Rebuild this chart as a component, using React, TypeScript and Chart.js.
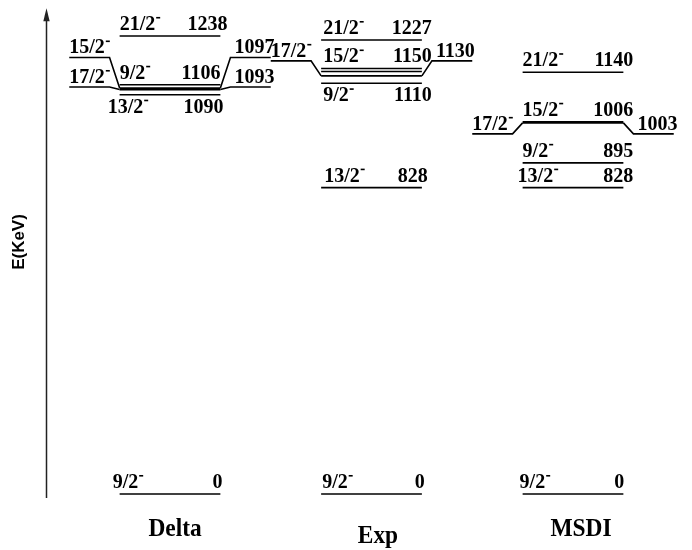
import React, { useEffect, useRef } from 'react';
import { Chart, registerables } from 'chart.js';

Chart.register(...registerables);

// ---- data ----
const categories = ['Delta', 'Exp', 'MSDI'];
const deltaSpins = ['9/2', '13/2', '17/2', '15/2', '9/2', '21/2'];
const deltaEnergies = [0, 1090, 1093, 1097, 1106, 1238];
const expSpins = ['9/2', '13/2', '9/2', '17/2', '15/2', '21/2'];
const expEnergies = [0, 828, 1110, 1130, 1150, 1227];
const msdiSpins = ['9/2', '13/2', '9/2', '17/2', '15/2', '21/2'];
const msdiEnergies = [0, 828, 895, 1003, 1006, 1140];
const yAxisTitle = 'E(KeV)';

// ---- layout (not data) ----
const X_MIN = -0.8437;
const X_MAX = 2.5906;
const Y_MIN = -151.4;
const Y_MAX = 1335.1;
const HALF = 0.25;
const SIDE_IN = 0.3;
const SIDE_OUT = 0.5;
const AXIS_X = -0.613;
const AXIS_TOP = 1313;
const AXIS_BOTTOM = -11;

type Place = 'ground' | 'above' | 'below' | 'side';
interface Lay {
  place: Place;
  shift?: number; // side line shift in px (up positive)
  nudge?: number; // main line nudge in px (down positive)
  eDx?: number;
  sDx?: number;
  double?: boolean;
}
const layout: Record<string, Lay> = {
  '0:0': { place: 'ground', sDx: -7, eDx: 2 },
  '0:1090': { place: 'below', nudge: 4, sDx: -12, eDx: 3 },
  '0:1093': { place: 'side', shift: 2.6 },
  '0:1097': { place: 'side', shift: 30.6 },
  '0:1106': { place: 'above', eDx: 0 },
  '0:1238': { place: 'above', eDx: 7 },
  '1:0': { place: 'ground', sDx: 1, eDx: 3 },
  '1:828': { place: 'above', sDx: 3, eDx: 6 },
  '1:1110': { place: 'below', sDx: 2 },
  '1:1130': { place: 'side', shift: 15 },
  '1:1150': { place: 'above', sDx: 2, double: true },
  '1:1227': { place: 'above', sDx: 2 },
  '2:0': { place: 'ground', sDx: -3, eDx: 1 },
  '2:828': { place: 'above', sDx: -5 },
  '2:895': { place: 'above' },
  '2:1003': { place: 'side', shift: -11 },
  '2:1006': { place: 'above' },
  '2:1140': { place: 'above' },
};
const catDx = [0.025, 0.032, 0.04];
const catBaseline = [536, 543, 536];

const PX_PER_KEV = 550 / (Y_MAX - Y_MIN);

interface Level { col: number; spin: string; energy: number; lay: Lay }
const columns = [
  { spins: deltaSpins, energies: deltaEnergies },
  { spins: expSpins, energies: expEnergies },
  { spins: msdiSpins, energies: msdiEnergies },
];
const levels: Level[] = [];
columns.forEach((c, col) => {
  c.energies.forEach((e, i) => {
    levels.push({ col, spin: c.spins[i], energy: e, lay: layout[`${col}:${e}`] || { place: 'above' } });
  });
});

function lineY(l: Level) {
  return l.energy - (l.lay.nudge || 0) / PX_PER_KEV;
}
function sideY(l: Level) {
  return l.energy + (l.lay.shift || 0) / PX_PER_KEV;
}

function buildDatasets() {
  const ds: any[] = [];
  const seg = (pts: { x: number; y: number }[]) => ({
    data: pts,
    showLine: true,
    borderColor: '#000',
    borderWidth: 1.6,
    pointRadius: 0,
    fill: false,
    tension: 0,
  });
  levels.forEach((l) => {
    const y = lineY(l);
    ds.push(seg([{ x: l.col - HALF, y }, { x: l.col + HALF, y }]));
    if (l.lay.double) {
      const y2 = y - 3 / PX_PER_KEV;
      ds.push(seg([{ x: l.col - HALF, y: y2 }, { x: l.col + HALF, y: y2 }]));
    }
    if (l.lay.place === 'side') {
      const sy = sideY(l);
      ds.push(seg([
        { x: l.col - SIDE_OUT, y: sy },
        { x: l.col - SIDE_IN, y: sy },
        { x: l.col - HALF, y },
      ]));
      ds.push(seg([
        { x: l.col + HALF, y },
        { x: l.col + SIDE_IN, y: sy },
        { x: l.col + SIDE_OUT, y: sy },
      ]));
    }
  });
  return ds;
}

const labelFont = 'bold 20px "Liberation Serif", "Times New Roman", serif';

function drawSpin(ctx: CanvasRenderingContext2D, text: string, x: number, y: number) {
  ctx.textAlign = 'left';
  ctx.fillText(text, x, y);
  const w = ctx.measureText(text).width;
  ctx.fillRect(x + w + 1, y - 13, 4, 1.6);
}

const labelsPlugin = {
  id: 'levelLabels',
  afterDatasetsDraw(chart: any) {
    const ctx: CanvasRenderingContext2D = chart.ctx;
    const xs = chart.scales.x;
    const ys = chart.scales.y;
    ctx.save();
    ctx.fillStyle = '#000';
    ctx.textBaseline = 'alphabetic';

    // axis arrow
    const ax = Math.round(xs.getPixelForValue(AXIS_X)) + 0.5;
    const aTop = ys.getPixelForValue(AXIS_TOP);
    const aBot = ys.getPixelForValue(AXIS_BOTTOM);
    ctx.strokeStyle = '#222';
    ctx.lineWidth = 1.5;
    ctx.beginPath();
    ctx.moveTo(ax, aBot);
    ctx.lineTo(ax, aTop + 8);
    ctx.stroke();
    ctx.fillStyle = '#222';
    ctx.beginPath();
    ctx.moveTo(ax, aTop);
    ctx.lineTo(ax - 3.2, aTop + 13);
    ctx.lineTo(ax + 3.2, aTop + 13);
    ctx.closePath();
    ctx.fill();

    // y title
    ctx.fillStyle = '#000';
    ctx.save();
    ctx.translate(24, 242);
    ctx.rotate(-Math.PI / 2);
    ctx.font = 'bold 17px "Liberation Sans", Arial, sans-serif';
    ctx.textAlign = 'center';
    ctx.fillText(yAxisTitle, 0, 0);
    ctx.restore();

    // level labels
    ctx.font = labelFont;
    levels.forEach((l) => {
      const y = ys.getPixelForValue(lineY(l));
      const x0 = xs.getPixelForValue(l.col - HALF);
      const x1 = xs.getPixelForValue(l.col + HALF);
      const sDx = l.lay.sDx || 0;
      const eDx = l.lay.eDx !== undefined ? l.lay.eDx : 10;
      const eText = String(l.energy);
      if (l.lay.place === 'side') {
        const sy = ys.getPixelForValue(sideY(l));
        drawSpin(ctx, l.spin, xs.getPixelForValue(l.col - SIDE_OUT), sy - 4);
        ctx.textAlign = 'left';
        ctx.fillText(eText, xs.getPixelForValue(l.col + SIDE_IN) + 4, sy - 4);
        return;
      }
      const by = l.lay.place === 'below' ? y + 18 : y - 6;
      drawSpin(ctx, l.spin, x0 + sDx, by);
      ctx.textAlign = 'right';
      ctx.fillText(eText, x1 + eDx, by);
    });

    // category labels (tall, slightly condensed serif)
    ctx.font = 'bold 26px "Liberation Serif", "Times New Roman", serif';
    ctx.textAlign = 'center';
    categories.forEach((c, i) => {
      ctx.save();
      ctx.translate(xs.getPixelForValue(i + catDx[i]), catBaseline[i]);
      ctx.scale(0.9, 1);
      ctx.fillText(c, 0, 0);
      ctx.restore();
    });
    ctx.restore();
  },
};

export default function App() {
  const ref = useRef<HTMLCanvasElement | null>(null);
  useEffect(() => {
    if (!ref.current) return;
    const chart = new Chart(ref.current, {
      type: 'scatter',
      data: { datasets: buildDatasets() },
      options: {
        animation: false,
        responsive: false,
        devicePixelRatio: 1,
        layout: { padding: 0 },
        plugins: { legend: { display: false }, tooltip: { enabled: false } },
        scales: {
          x: { type: 'linear', min: X_MIN, max: X_MAX, display: false },
          y: { type: 'linear', min: Y_MIN, max: Y_MAX, display: false },
        },
      },
      plugins: [labelsPlugin],
    });
    return () => chart.destroy();
  }, []);
  return (
    <div style={{ position: 'absolute', left: 0, top: 0, width: 692, height: 550, background: '#fff' }}>
      <canvas ref={ref} width={692} height={550} />
    </div>
  );
}
